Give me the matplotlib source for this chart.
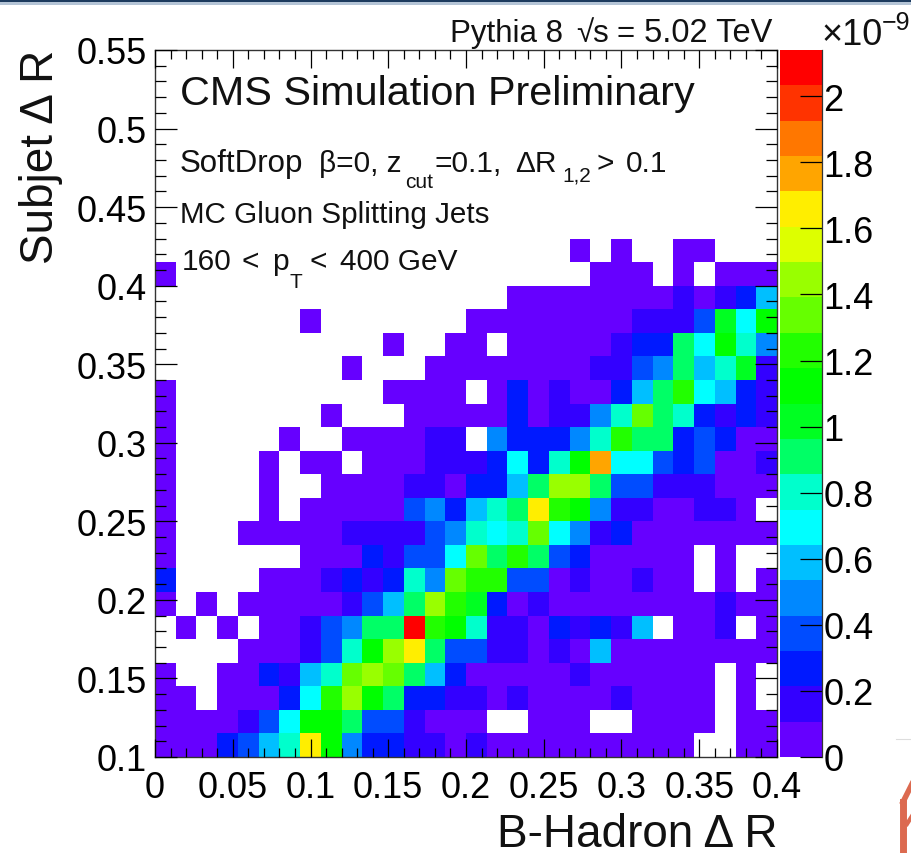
import numpy as np
import matplotlib
matplotlib.use('Agg')
import matplotlib.pyplot as plt
from matplotlib.colors import ListedColormap, BoundaryNorm
from matplotlib.lines import Line2D
from matplotlib.patches import Rectangle
from matplotlib.ticker import MultipleLocator, FixedLocator

plt.rcParams['font.family'] = ['Liberation Sans', 'DejaVu Sans']

W, H = 912, 854

# one string per row, bottom row first. '.' is an empty bin,
# otherwise the colour band: 0-9 then a=10 ... j=19
rows = [
    '0002357fa42211010000000000..00',
    '0000136aa8331000..000..0000.00',
    '00.00026bda8221101000010000.0.',
    '0..002157cdc852000001000000.0.',
    '....000137adf83311010500000000',
    '.0.0.0013488jba711021215.001.0',
    '0.0.000001358db920100000000100',
    '2....000121274cbb330100100.0.0',
    '0......00021336c8b83200000.0..',
    '0...00000111134767c64120000000',
    '0....0.00000342578fba41100110.',
    '0....0..00001102258dd833111000',
    '0....0.00.0001112627ag66323001',
    '0.....0..000011.422247b8823200',
    '0.......0...00000201147c872121',
    '0..........0000.020100258b6521',
    '.........0...00000000113485791',
    '...........0..00.0000012286a74',
    '.......0.......00000000111396a',
    '.................0000000010125',
    '0....................000.0.000',
    '....................0.0..00...',
]

band_colors = ['#6600ff', '#3300ff', '#0019ff', '#004cff', '#0088ff',
               '#00bfff', '#00ffff', '#00ffcc', '#00ff66', '#00ff22',
               '#00ff00', '#22ff00', '#66ff00', '#99ff00', '#ddff00',
               '#ffee00', '#ffa500', '#ff7700', '#ff3300', '#ff0000']
z_max = 2.14  # in units of 1e-9
n_x, n_y = 30, 30
x_min, x_max = 0.0, 0.4
y_min, y_max = 0.1, 0.55

x_ticks = [0, 0.05, 0.1, 0.15, 0.2, 0.25, 0.3, 0.35, 0.4]
x_labels = ['0', '0.05', '0.1', '0.15', '0.2', '0.25', '0.3', '0.35', '0.4']
y_ticks = [0.1, 0.15, 0.2, 0.25, 0.3, 0.35, 0.4, 0.45, 0.5, 0.55]
y_labels = ['0.1', '0.15', '0.2', '0.25', '0.3', '0.35', '0.4', '0.45', '0.5', '0.55']
z_ticks = [0, 0.2, 0.4, 0.6, 0.8, 1, 1.2, 1.4, 1.6, 1.8, 2]
z_labels = ['0', '0.2', '0.4', '0.6', '0.8', '1', '1.2', '1.4', '1.6', '1.8', '2']

CODES = '0123456789abcdefghij'
levels = np.linspace(0, z_max, len(band_colors) + 1)
z = np.full((n_y, n_x), np.nan)
for r, row in enumerate(rows):
    if len(row) != n_x:
        raise ValueError('bad row %d: %d' % (r, len(row)))
    for c, ch in enumerate(row):
        if ch != '.':
            z[r, c] = 0.5 * (levels[CODES.index(ch)] + levels[CODES.index(ch) + 1])

cmap = ListedColormap(band_colors)
norm = BoundaryNorm(levels, cmap.N)


def px_axes(left, top, right, bottom):
    return [left / W, 1 - bottom / H, (right - left) / W, (bottom - top) / H]


def label(x, y, s, size=21.5, ha='left', va='baseline', **kw):
    fig.text(x / W, 1 - y / H, s, fontsize=size, ha=ha, va=va, color='#111111', **kw)


fig = plt.figure(figsize=(W / 100, H / 100), dpi=100)
ax = fig.add_axes(px_axes(155, 51, 777, 758))
cax = fig.add_axes(px_axes(780, 51, 822, 758))

x_edges = np.linspace(x_min, x_max, n_x + 1)
y_edges = np.linspace(y_min, y_max, n_y + 1)
mesh = ax.pcolormesh(x_edges, y_edges, np.ma.masked_invalid(z), cmap=cmap, norm=norm)

ax.set_xlim(x_min, x_max)
ax.set_ylim(y_min, y_max)
ax.set_xticks(x_ticks, x_labels)
ax.set_yticks(y_ticks, y_labels)
ax.xaxis.set_minor_locator(MultipleLocator(0.01))
ax.yaxis.set_minor_locator(MultipleLocator(0.01))
ax.tick_params(axis='x', which='major', direction='in', top=True, length=13, width=0.9, labelsize=26, pad=9.5)
ax.tick_params(axis='x', which='minor', direction='in', top=True, length=6.5, width=0.9)
ax.tick_params(axis='y', which='major', direction='in', right=True, length=16, width=0.9, labelsize=26, pad=6)
ax.tick_params(axis='y', which='minor', direction='in', right=True, length=8, width=0.9)
ax.set_axisbelow(False)
for s in ax.spines.values():
    s.set_linewidth(1.0)
    s.set_color('#333333')

cb = fig.colorbar(mesh, cax=cax, spacing='proportional', drawedges=False)
cb.outline.set_visible(False)
cax.spines['right'].set_visible(True)
cax.spines['right'].set_linewidth(0.9)
cax.spines['right'].set_color('#333333')
cb.minorticks_off()
cax.yaxis.set_major_locator(FixedLocator(z_ticks))
cax.set_yticklabels(z_labels)
cax.tick_params(axis='y', direction='in', right=True, length=16, width=0.9, labelsize=26, pad=1, color='black')

# texts placed in pixels of the figure
label(778, 847, 'B-Hadron Δ R', size=33, ha='right')
fig.text(53 / W, 1 - 50 / H, 'Subjet Δ R', fontsize=33, rotation=90, ha='right', va='baseline',
         rotation_mode='anchor', color='#111111')
label(450, 42, 'Pythia 8', size=22.5)
label(576, 42, '√s', size=22.5)
label(617, 42, '=', size=22.5)
label(644, 42, '5.02 TeV', size=23.5)
label(180, 105, 'CMS Simulation Preliminary', size=29.8)
label(180, 172, 'SoftDrop', size=22.5)
label(319, 172, 'β=0, z', size=21.5)
label(405, 188, 'cut', size=15)
label(435, 172, '=0.1,', size=21.5)
label(515, 172, 'ΔR', size=21.5)
label(562, 182, '1,2', size=15)
label(597, 172, '>', size=21.5)
label(626, 172, '0.1', size=21.5)
label(180, 223, 'MC Gluon Splitting Jets', size=21.3)
label(182, 270, '160', size=21.5)
label(242, 270, '<', size=21.5)
label(272, 270, 'p', size=21.5)
label(289, 288, 'T', size=15)
label(310, 270, '<', size=21.5)
label(340, 270, '400 GeV', size=21.5)
label(822, 45, '×10', size=26)
label(882, 30, '−9', size=18)

# window edge and the bit of logo caught in the screenshot
fig.add_artist(Rectangle((0, 1 - 3 / H), 1, 3 / H, transform=fig.transFigure, color='#1c3a5e', lw=0))
fig.add_artist(Rectangle((0, 1 - 6 / H), 1, 3 / H, transform=fig.transFigure, color='#b4c4d6', lw=0))
fig.add_artist(Line2D([896 / W, 1], [1 - 740 / H] * 2, color='#dddddd', lw=0.8))
for xs, ys, lw in [([903, 903], [803, 854], 5), ([903, 912], [803, 785], 4), ([907, 912], [825, 817], 3)]:
    fig.add_artist(Line2D(np.array(xs) / W, 1 - np.array(ys) / H, color='#dc6a50', lw=lw))

plt.savefig('out.png', dpi=100)
